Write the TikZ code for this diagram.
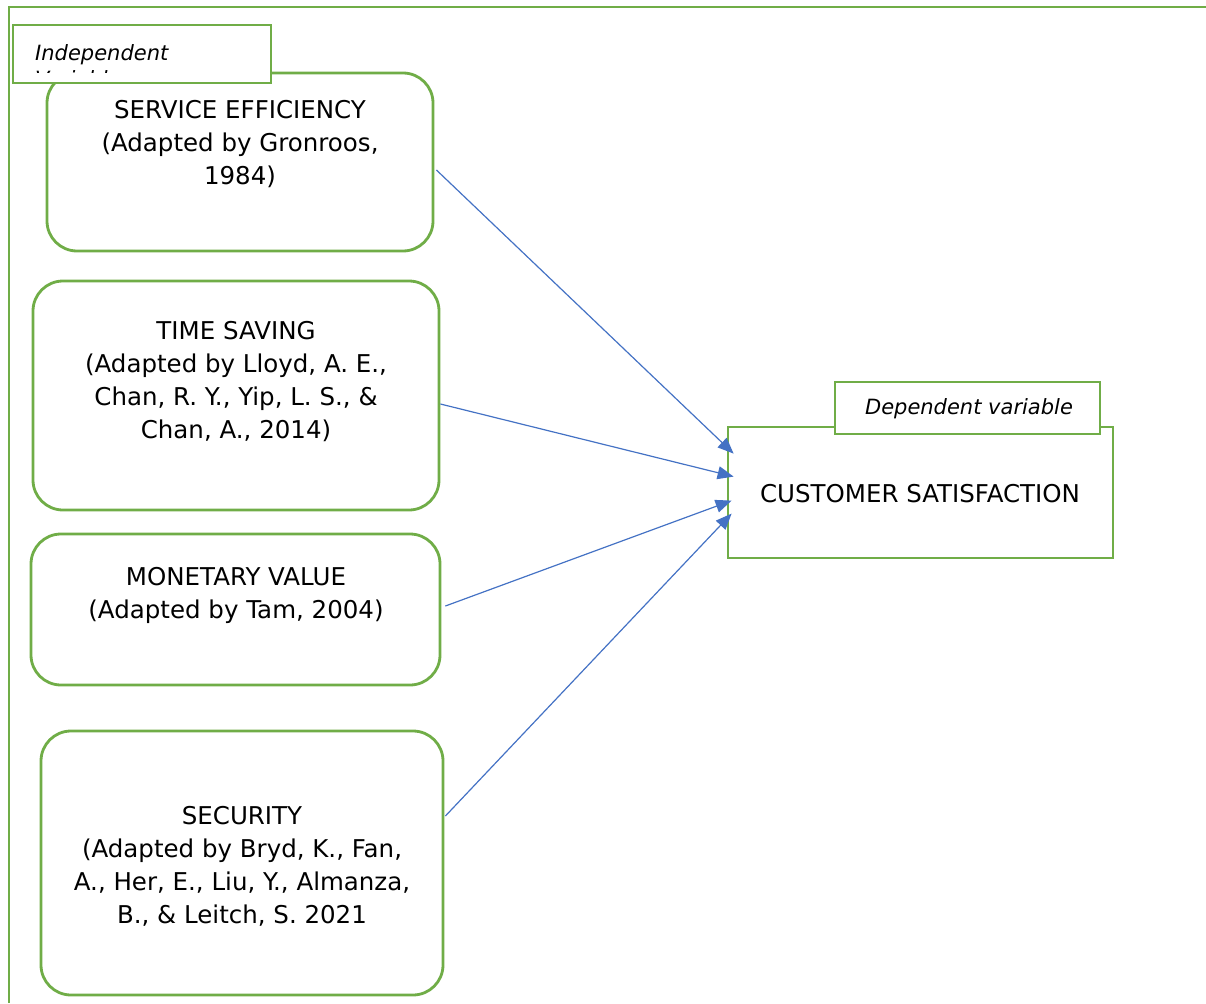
\documentclass[tikz,border=0pt]{standalone}
\usepackage{fontspec}
\setmainfont{DejaVu Sans}
\usepackage{xcolor}
\usetikzlibrary{arrows.meta}
\definecolor{boxgreen}{HTML}{70AD47}
\definecolor{linkblue}{HTML}{4472C4}
\tikzset{
    var-box/.style = {draw=boxgreen, fill=white, line width=2.8pt, rectangle, rounded corners=30pt, inner sep=0pt},
    tag-box/.style = {draw=boxgreen, fill=white, line width=2.8pt, rectangle, inner sep=0pt},
    var-text/.style = {align=center, font=\fontsize{24.5}{33}\selectfont, inner sep=0pt},
    tag-text/.style = {align=left, font=\fontsize{21}{26}\selectfont\itshape, inner sep=0pt},
    link-arrow/.style = {draw=linkblue, line width=1.2pt, -{Triangle[length=16pt,width=13pt]}},
}

\begin{document}
\begin{tikzpicture}[x=1pt, y=-1pt]
\useasboundingbox (0,0) rectangle (1206,1003);
\draw[boxgreen, line width=2.8pt] (9,1003) -- (9,7) -- (1206,7);

% independent variables
\node [var-box, minimum width=386pt, minimum height=178pt] (service) at (240,162) {};
\node [var-text, anchor=north] (service-text) at (240,100) {SERVICE EFFICIENCY\\(Adapted by Gronroos,\\1984)};
\node [var-box, minimum width=406pt, minimum height=229pt] (time) at (236,395.5) {};
\node [var-text, anchor=north] (time-text) at (236,321) {TIME SAVING\\(Adapted by Lloyd, A. E.,\\Chan, R. Y., Yip, L. S., \&\\Chan, A., 2014)};
\node [var-box, minimum width=409pt, minimum height=151pt] (money) at (235.5,609.5) {};
\node [var-text, anchor=north] (money-text) at (236,567) {MONETARY VALUE\\(Adapted by Tam, 2004)};
\node [var-box, minimum width=402pt, minimum height=264pt] (security) at (242,863) {};
\node [var-text, anchor=north] (security-text) at (242,806) {SECURITY\\(Adapted by Bryd, K., Fan,\\A., Her, E., Liu, Y., Almanza,\\B., \& Leitch, S. 2021};

\node [tag-box, minimum width=258pt, minimum height=58pt] (indep-tag) at (142,54) {};
\begin{scope}
\clip (indep-tag.north west) rectangle (271,72.8);
\node [tag-text, anchor=north west] (indep-text) at (35,44) {Independent\\Variables};
\end{scope}

% dependent variable
\node [tag-box, minimum width=385pt, minimum height=131pt] (satisfaction) at (920.5,492.5) {};
\node [var-text] (satisfaction-text) at (920,494) {CUSTOMER SATISFACTION};
\node [tag-box, minimum width=265pt, minimum height=52pt] (dep-tag) at (967.5,408) {};
\node [tag-text] (dep-text) at (969,409) {Dependent variable};

\coordinate (in-1) at ([xshift=7pt, yshift=-28pt]satisfaction.north west);
\coordinate (in-2) at ([xshift=7pt, yshift=-51pt]satisfaction.north west);
\coordinate (in-3) at ([xshift=5pt, yshift=-75pt]satisfaction.north west);
\coordinate (in-4) at ([xshift=5pt, yshift=-88pt]satisfaction.north west);

\draw [link-arrow] ([xshift=2pt, yshift=-8pt]service.east) -- (in-1);
\draw [link-arrow] ([yshift=-8.5pt]time.east) -- (in-2);
\draw [link-arrow] ([xshift=4pt, yshift=3.5pt]money.east) -- (in-3);
\draw [link-arrow] ([xshift=1pt, yshift=47pt]security.east) -- (in-4);
\end{tikzpicture}
\end{document}
